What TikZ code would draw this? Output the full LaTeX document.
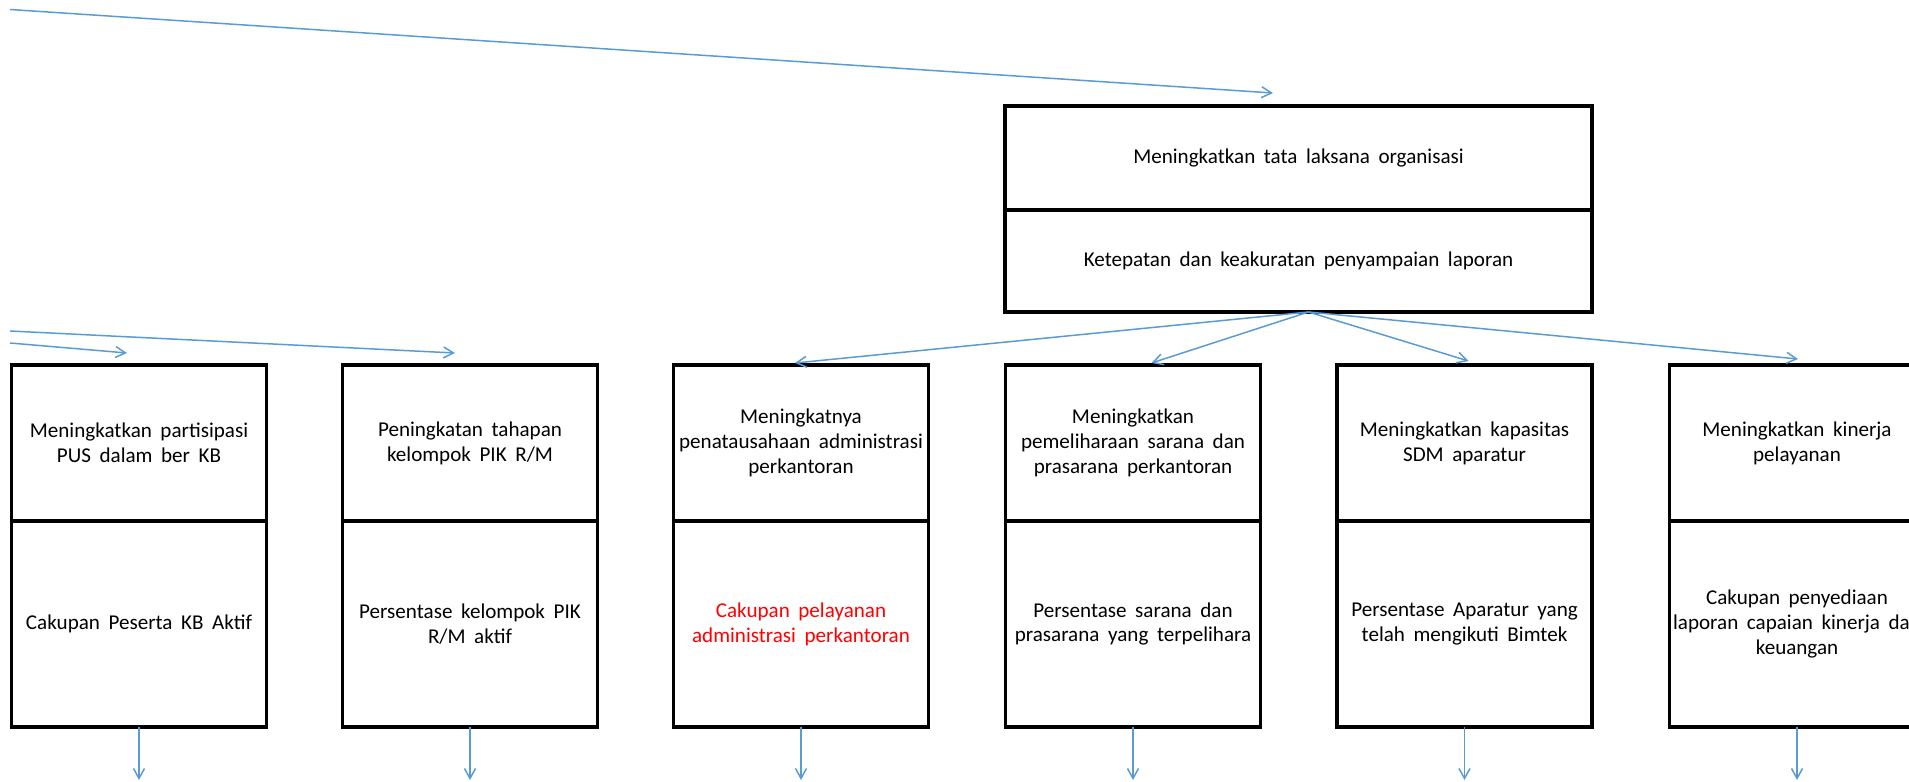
\documentclass[tikz,border=0pt]{standalone}
\usepackage{fontspec}
\setmainfont{Carlito}[WordSpace=1.8]
\usepackage{tikz}
\usetikzlibrary{arrows.meta, calc, positioning}
\definecolor{arrblue}{HTML}{5B9BD5}
\tikzset{
  box/.style={draw=black, line width=0.7mm, align=center, inner sep=0pt, outer sep=0pt,
    font=\fontsize{12}{14.2}\selectfont},
  goal/.style={box, minimum width=51mm, minimum height=31.2mm},
  ind/.style={box, minimum width=51mm, minimum height=41.2mm},
  arr/.style={draw=arrblue, line width=0.3mm, -{Straight Barb[length=2mm,width=2.2mm]}}
}

\begin{document}
\begin{tikzpicture}[x=0.2mm, y=-0.2mm]
          \clip (0,0) rectangle (1909,782);
          % Top box
          \node[box, minimum width=117.4mm, minimum height=20.8mm] (t1) at (1298.5,158) {Meningkatkan tata laksana organisasi};
          \node[box, minimum width=117.4mm, minimum height=20.4mm, below=0pt of t1] (t2) {Ketepatan dan keakuratan penyampaian laporan};
          % Goals
          \node[goal] (g1) at (139,443) {Meningkatkan partisipasi\\PUS dalam ber KB};
          \node[goal] (g2) at (470,443) {Peningkatan tahapan\\kelompok PIK R/M};
          \node[goal] (g3) at (801,443) {Meningkatnya\\penatausahaan administrasi\\perkantoran};
          \node[goal] (g4) at (1133,443) {Meningkatkan\\pemeliharaan sarana dan\\prasarana perkantoran};
          \node[goal] (g5) at (1464.5,443) {Meningkatkan kapasitas\\SDM aparatur};
          \node[goal] (g6) at (1797,443) {Meningkatkan kinerja\\pelayanan};
          % Indicators
          \node[ind, below=0pt of g1] (i1) {Cakupan Peserta KB Aktif};
          \node[ind, below=0pt of g2] (i2) {Persentase kelompok PIK\\R/M aktif};
          \node[ind, below=0pt of g3, text=red] (i3) {Cakupan pelayanan\\administrasi perkantoran};
          \node[ind, below=0pt of g4] (i4) {Persentase sarana dan\\prasarana yang terpelihara};
          \node[ind, below=0pt of g5] (i5) {Persentase Aparatur yang\\telah mengikuti Bimtek};
          \node[ind, below=0pt of g6] (i6) {Cakupan penyediaan\\laporan capaian kinerja dan\\keuangan};
          % Incoming arrows
          \coordinate (s0) at (10,9.5);
          \coordinate (e0) at (1273,93);
          \coordinate (s1) at (10,331);
          \coordinate (e1) at (455,353);
          \coordinate (s2) at (10,343);
          \coordinate (e2) at (127,353);
          \draw[arr] (s0) -- (e0);
          \draw[arr] (s1) -- (e1);
          \draw[arr] (s2) -- (e2);
          % Fan out
          \coordinate (fan) at ($(t2.south)+(10,0)$);
          \draw[arr] (fan) -- ([xshift=-1.2mm,yshift=0.4mm]g3.north);
          \draw[arr] (fan) -- ([xshift=3.7mm,yshift=0.4mm]g4.north);
          \draw[arr] (fan) -- ([xshift=0.8mm,yshift=0.8mm]g5.north);
          \draw[arr] (fan) -- ([xshift=0.2mm,yshift=1.2mm]g6.north);
          % Outgoing arrows
          \draw[arr] (i1.south) -- ++(0,53);
          \draw[arr] (i2.south) -- ++(0,53);
          \draw[arr] (i3.south) -- ++(0,53);
          \draw[arr] (i4.south) -- ++(0,53);
          \draw[arr] (i5.south) -- ++(0,53);
          \draw[arr] (i6.south) -- ++(0,53);
        \end{tikzpicture}
\end{document}
